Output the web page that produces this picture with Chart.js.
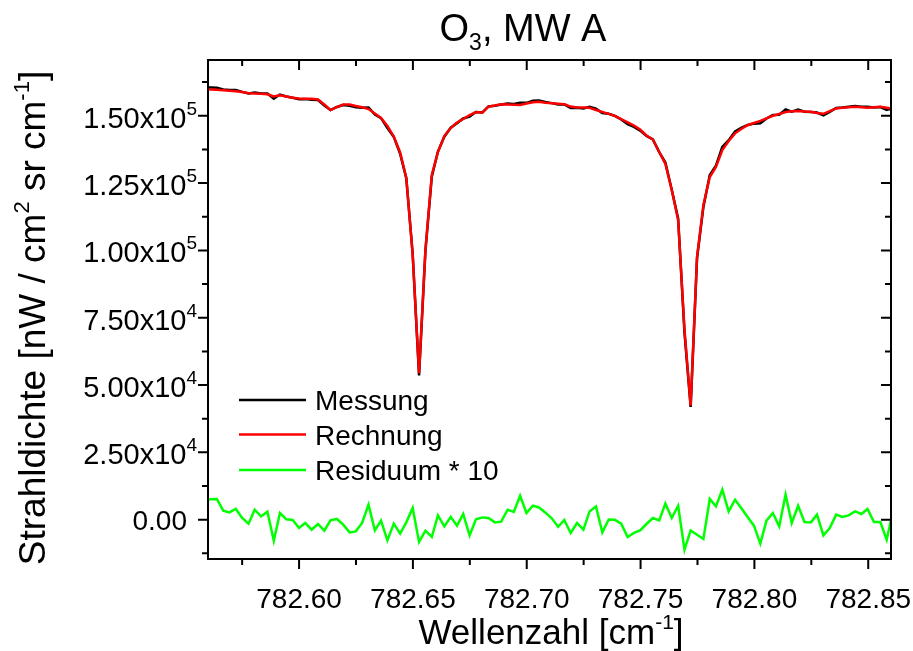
<!DOCTYPE html>
<html><head><meta charset="utf-8">
<script src="https://cdn.jsdelivr.net/npm/chart.js@4.4.0/dist/chart.umd.min.js"></script>
<style>html,body{margin:0;padding:0;background:#fff}canvas{display:block}</style>
</head><body>
<canvas id="c" width="913" height="651"></canvas>
<script>
// ---- data ----
const wavenumbers = [
782.5583,782.5611,782.5639,782.5667,782.5694,782.5722,782.5750,782.5778,782.5805,782.5833,
782.5861,782.5889,782.5916,782.5944,782.5972,782.6000,782.6027,782.6055,782.6083,782.6111,
782.6138,782.6166,782.6194,782.6222,782.6249,782.6277,782.6305,782.6333,782.6360,782.6388,
782.6416,782.6444,782.6471,782.6499,782.6527,782.6555,782.6583,782.6610,782.6638,782.6666,
782.6694,782.6721,782.6749,782.6777,782.6805,782.6832,782.6860,782.6888,782.6916,782.6943,
782.6971,782.6999,782.7027,782.7054,782.7082,782.7110,782.7138,782.7165,782.7193,782.7221,
782.7249,782.7276,782.7304,782.7332,782.7360,782.7387,782.7415,782.7443,782.7471,782.7498,
782.7526,782.7554,782.7582,782.7609,782.7637,782.7665,782.7693,782.7720,782.7748,782.7776,
782.7804,782.7831,782.7859,782.7887,782.7915,782.7942,782.7970,782.7998,782.8026,782.8053,
782.8081,782.8109,782.8137,782.8164,782.8192,782.8220,782.8248,782.8275,782.8303,782.8331,
782.8359,782.8386,782.8414,782.8442,782.8470,782.8497,782.8525,782.8553,782.8581,782.8608];

const messung = [
160630,160520,160380,159760,159550,159530,158860,158240,158610,158250,
158280,156350,157860,157130,156680,156110,156230,155900,155850,153750,
152090,153260,153970,153690,153170,153000,153050,150420,149110,145410,
142140,135830,126790,98750,53600,99770,127360,136700,142220,145540,
147260,148990,149680,151380,151210,153440,153690,154160,154530,154340,
154860,154780,155530,155650,155120,154690,154150,154230,152920,152960,
152670,153280,152610,150980,150710,149970,148630,146910,145880,144480,
142500,141230,136510,132670,122500,111830,69380,41900,97020,116150,
128030,131460,138390,140930,144210,145500,146580,147070,147220,149000,
150250,150380,152310,151520,152270,151520,151350,151200,150130,151440,
152900,153070,153350,153620,153330,153370,153080,153230,152190,152860];

const rechnung = [
159910,159760,159610,159430,159280,159130,158800,158390,158240,158130,
157980,157130,157610,157130,156680,156420,156350,156270,156010,154160,
152120,153230,154160,154160,153600,153120,152490,150820,149150,146180,
142290,136350,126890,98320,54430,100180,128000,136540,142470,145440,
147480,148780,150260,151380,151120,153380,153790,154230,154160,154050,
153970,154530,155010,155200,154860,154640,154420,154230,153410,153080,
153040,152970,152120,151450,150710,149970,148780,147550,146370,144880,
142660,141170,136540,132080,122440,111310,70490,42300,97580,116870,
127260,130970,137280,140620,143470,145070,146480,147290,148110,149040,
150000,150630,151380,151640,151750,151600,151450,151010,150710,151750,
152710,152970,153190,153310,153120,152970,153160,153310,152930,152560];

const residuum10 = [
7230,7570,7680,3340,2710,3970,630,-1480,3710,1220,
2970,-7790,2490,120,-80,-3080,-1220,-3710,-1600,-4080,
-260,260,-1860,-4710,-4340,-1220,5570,-3970,-370,-7680,
-1480,-5190,-1000,4340,-8270,-4080,-6420,1600,-2490,1000,
-2230,2110,-5820,150,850,630,-1000,-740,3710,2860,
8900,2490,5190,4530,2600,520,-2670,-100,-4930,-1220,
-3710,3080,4930,-4710,90,-60,-1480,-6420,-4930,-3970,
-1600,630,-260,5940,630,5190,-11130,-3970,-5570,-7160,
7680,4930,11130,3080,7420,4340,1000,-2230,-8900,-370,
2490,-2490,9280,-1220,5190,-850,-1000,1860,-5820,-3080,
1860,1000,1600,3080,2110,3970,-850,-850,-7420,2970];

const seriesNames = ['Messung', 'Rechnung', 'Residuum * 10'];
const xTickValues = [782.60, 782.65, 782.70, 782.75, 782.80, 782.85];
const xTickLabels = ['782.60', '782.65', '782.70', '782.75', '782.80', '782.85'];
const xMinorValues = [782.575, 782.625, 782.675, 782.725, 782.775, 782.825];
const yTickValues = [0, 25000, 50000, 75000, 100000, 125000, 150000];
const yTickLabels = ['0.00', '2.50x10^4', '5.00x10^4', '7.50x10^4', '1.00x10^5', '1.25x10^5', '1.50x10^5'];
const yMinorValues = [-12500, 12500, 37500, 62500, 87500, 112500, 137500, 162500];
const xRange = [782.56, 782.86];
const yRange = [-14600, 170700];

// ---- drawing ----
const FF = '"Liberation Sans", Arial, Helvetica, sans-serif';
const colors = ['#000000', '#ff0000', '#00ff00'];

function drawRich(ctx, parts, x, y, align) {
  let w = 0;
  for (const p of parts) { ctx.font = p.size + 'px ' + FF; p.w = ctx.measureText(p.t).width; w += p.w; }
  let sx = align === 'center' ? x - w / 2 : (align === 'right' ? x - w : x);
  ctx.textAlign = 'left'; ctx.textBaseline = 'alphabetic'; ctx.fillStyle = '#000';
  for (const p of parts) { ctx.font = p.size + 'px ' + FF; ctx.fillText(p.t, sx, y + (p.dy || 0)); sx += p.w; }
}

const decor = {
  id: 'decor',
  afterDraw(chart) {
    const ctx = chart.ctx, a = chart.chartArea;
    const xs = chart.scales.x, ys = chart.scales.y;
    ctx.save();
    ctx.strokeStyle = '#000'; ctx.lineWidth = 2; ctx.lineCap = 'butt';
    ctx.strokeRect(a.left, a.top, a.right - a.left, a.bottom - a.top);
    const MAJ = 10, MIN = 6;
    ctx.beginPath();
    for (const v of xTickValues) { const px = xs.getPixelForValue(v);
      ctx.moveTo(px, a.bottom); ctx.lineTo(px, a.bottom + MAJ);
      ctx.moveTo(px, a.top); ctx.lineTo(px, a.top + MAJ); }
    for (const v of xMinorValues) { const px = xs.getPixelForValue(v);
      ctx.moveTo(px, a.bottom); ctx.lineTo(px, a.bottom + MIN);
      ctx.moveTo(px, a.top); ctx.lineTo(px, a.top + MIN); }
    for (const v of yTickValues) { const py = ys.getPixelForValue(v);
      ctx.moveTo(a.left, py); ctx.lineTo(a.left - MAJ, py);
      ctx.moveTo(a.right, py); ctx.lineTo(a.right - MAJ, py); }
    for (const v of yMinorValues) { const py = ys.getPixelForValue(v);
      ctx.moveTo(a.left, py); ctx.lineTo(a.left - MIN, py);
      ctx.moveTo(a.right, py); ctx.lineTo(a.right - MIN, py); }
    ctx.stroke();

    // x tick labels
    xTickValues.forEach((v, i) => {
      drawRich(ctx, [{t: xTickLabels[i], size: 28}], xs.getPixelForValue(v), a.bottom + 49, 'center');
    });
    // y tick labels
    yTickValues.forEach((v, i) => {
      const py = ys.getPixelForValue(v);
      const s = yTickLabels[i];
      if (s.includes('^')) {
        const [m, e] = s.split('^');
        drawRich(ctx, [{t: m, size: 29}, {t: e, size: 19, dy: -13}], a.left - 11, py + 12, 'right');
      } else {
        drawRich(ctx, [{t: s, size: 28}], a.left - 21, py + 10, 'right');
      }
    });
    // title
    drawRich(ctx, [{t: 'O', size: 38}, {t: '3', size: 23, dy: 9}, {t: ', MW A', size: 38}], 523, 41, 'center');
    // x axis title
    drawRich(ctx, [{t: 'Wellenzahl [cm', size: 35}, {t: '-1', size: 21, dy: -15}, {t: ']', size: 35}], 551, 644, 'center');
    // y axis title
    ctx.save(); ctx.translate(45, 318); ctx.rotate(-Math.PI / 2);
    drawRich(ctx, [{t: 'Strahldichte [nW / cm', size: 37}, {t: '2', size: 22, dy: -16},
                   {t: ' sr cm', size: 37}, {t: '-1', size: 22, dy: -16}, {t: ']', size: 37}], 0, 0, 'center');
    ctx.restore();
    // legend
    const ly = [400, 434.5, 470];
    chart.data.datasets.forEach((ds, i) => {
      ctx.strokeStyle = ds.borderColor; ctx.lineWidth = 2.5;
      ctx.beginPath(); ctx.moveTo(239, ly[i]); ctx.lineTo(306, ly[i]); ctx.stroke();
      drawRich(ctx, [{t: ds.label, size: 28}], 315, ly[i] + 10, 'left');
    });
    ctx.restore();
  }
};

function pts(arr) { return wavenumbers.map((x, i) => ({x: x, y: arr[i]})); }

new Chart(document.getElementById('c'), {
  type: 'line',
  data: {
    datasets: [
      {label: seriesNames[0], data: pts(messung), borderColor: colors[0], borderWidth: 2.5, pointRadius: 0, tension: 0, order: 3, clip: 0},
      {label: seriesNames[1], data: pts(rechnung), borderColor: colors[1], borderWidth: 2.5, pointRadius: 0, tension: 0, order: 2, clip: 0},
      {label: seriesNames[2], data: pts(residuum10), borderColor: colors[2], borderWidth: 2.5, pointRadius: 0, tension: 0, order: 1, clip: 0}
    ]
  },
  options: {
    responsive: false, animation: false, events: [],
    layout: {padding: {left: 0, right: 22, top: 60, bottom: 0}},
    plugins: {legend: {display: false}, title: {display: false}, tooltip: {enabled: false}},
    scales: {
      x: {type: 'linear', min: xRange[0], max: xRange[1],
          grid: {display: false}, border: {display: false}, ticks: {display: false},
          afterFit(s) { s.height = 92; }},
      y: {type: 'linear', min: yRange[0], max: yRange[1],
          grid: {display: false}, border: {display: false}, ticks: {display: false},
          afterFit(s) { s.width = 208; }}
    }
  },
  plugins: [decor]
});
</script>
</body></html>
